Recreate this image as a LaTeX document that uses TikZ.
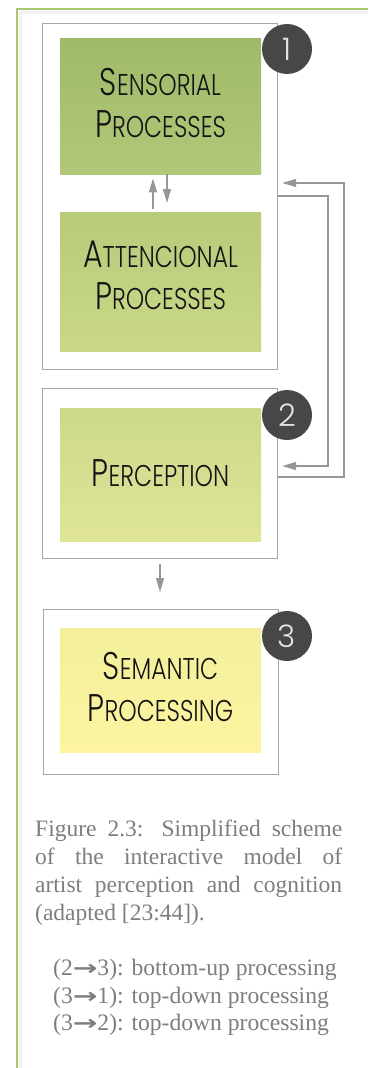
\documentclass[tikz,border=0pt]{standalone}
\usepackage{fontspec}
\setmainfont{Liberation Serif}
\newfontfamily\boxfont[FakeStretch=0.78]{Poppins Light}
\newfontfamily\numfont{Poppins Light}
\newfontfamily\arrfont{DejaVu Sans}
\usetikzlibrary{arrows.meta,shadings}
\definecolor{frameGreen}{HTML}{A9C873}
\definecolor{boxLine}{HTML}{A6A6A6}
\definecolor{connGray}{HTML}{969696}
\definecolor{circFill}{HTML}{474747}
\definecolor{numCol}{HTML}{E4E4E4}
\definecolor{capCol}{HTML}{7E7E7E}
\definecolor{sensTop}{HTML}{9FBA69}
\definecolor{sensBot}{HTML}{B2C779}
\definecolor{attTop}{HTML}{B7CB7B}
\definecolor{attBot}{HTML}{C9D887}
\definecolor{percTop}{HTML}{CDD88A}
\definecolor{percBot}{HTML}{DFE498}
\definecolor{semTop}{HTML}{F3EF9B}
\definecolor{semBot}{HTML}{FCF4A0}
\newcommand{\scapword}[2]{{\fontsize{38.5}{42}\selectfont #1}#2}
\newcommand{\rarr}{{\arrfont\bfseries\fontsize{21}{21}\selectfont\scalebox{1.4}[1]{→}}}
\tikzset{
  outerbox/.style={draw=boxLine, line width=1.2pt, fill=white, rectangle, anchor=north west, inner sep=0pt},
  innerbox/.style={rectangle, anchor=north west, inner sep=0pt, minimum width=201pt},
  boxtext/.style={anchor=north, inner sep=0pt, align=center, text=black!92,
    font=\boxfont\fontsize{30}{42}\selectfont},
  numcircle/.style={circle, fill=circFill, minimum size=50pt, inner sep=0pt,
    text=numCol, font=\numfont\fontsize{31}{31}\selectfont},
  conn/.style={draw=connGray, line width=1.2pt, -{Triangle[length=14pt,width=8pt]}},
  captext/.style={anchor=north west, inner sep=0pt, text=capCol, text width=307pt,
    align=justify, font=\fontsize{23.5}{28}\selectfont},
  listtext/.style={anchor=north west, inner sep=0pt, text=capCol, align=left,
    font=\fontsize{23.6}{27.5}\selectfont},
}
\begin{document}
\begin{tikzpicture}[x=1pt,y=-1pt]
\useasboundingbox (0,0) rectangle (368,1068);
\fill[white] (0,0) rectangle (368,1068);
% frame
\draw[black!5, line width=3pt] (20.5,1068) -- (20.5,12.5) -- (368,12.5);
\draw[frameGreen, line width=2.6pt] (17,1068) -- (17,9) -- (368,9);

% outer boxes
\node[outerbox, minimum width=235pt, minimum height=346pt] (b1) at (42,23) {};
\node[outerbox, minimum width=235pt, minimum height=170pt] (b2) at (42,388) {};
\node[outerbox, minimum width=235pt, minimum height=165pt] (b3) at (43,609) {};

% inner boxes
\node[innerbox, minimum height=136pt, top color=sensTop, bottom color=sensBot] (sens) at (60,38) {};
\node[innerbox, minimum height=139pt, top color=attTop, bottom color=attBot] (att) at (60,212) {};
\node[innerbox, minimum height=133pt, top color=percTop, bottom color=percBot] (perc) at (60,408) {};
\node[innerbox, minimum height=124pt, top color=semTop, bottom color=semBot] (sem) at (60,628) {};

% texts
\node[boxtext] (senst) at (160.5,68) {\scapword{S}{ENSORIAL}\\\scapword{P}{ROCESSES}};
\node[boxtext] (attt) at (160.5,241) {\scapword{A}{TTENCIONAL}\\\scapword{P}{ROCESSES}};
\node[boxtext] (perct) at (160.5,459) {\scapword{P}{ERCEPTION}};
\node[boxtext] (semt) at (160.5,652) {\scapword{S}{EMANTIC}\\\scapword{P}{ROCESSING}};

% number circles
\node[numcircle] (c1) at (287,49) {1};
\node[numcircle] (c2) at (287,415) {2};
\node[numcircle] (c3) at (287,636) {3};

% arrows between sensorial and attencional
\coordinate (ux) at (153,0);
\coordinate (dx) at (167,0);
\draw[conn, shorten <=3pt, shorten >=4pt] (ux |- att.north) -- (ux |- sens.south);
\draw[conn, shorten >=9pt] (dx |- sens.south) -- (dx |- att.north);

% arrow 2 -> 3
\coordinate (mx) at (160,0);
\draw[conn, shorten <=5pt, shorten >=17pt] (mx |- b2.south) -- (mx |- b3.north);

% feedback loops
\draw[conn, shorten >=4pt] (b2.east |- 0,477) -- (344,477) -- (344,183) -- (b1.east |- 0,183);
\draw[conn, shorten >=4pt] (b1.east |- 0,196) -- (328,196) -- (328,466) -- (b2.east |- 0,466);

% caption
\node[captext] (cap) at (35,820) {Figure 2.3: Simplified scheme\linebreak
of the interactive model of\linebreak
artist perception and cognition\linebreak
(adapted [23:44]).};

\node[listtext] (list) at (53,959) {(2\rarr3): bottom-up processing\\
(3\rarr1): top-down processing\\
(3\rarr2): top-down processing};
\end{tikzpicture}
\end{document}
